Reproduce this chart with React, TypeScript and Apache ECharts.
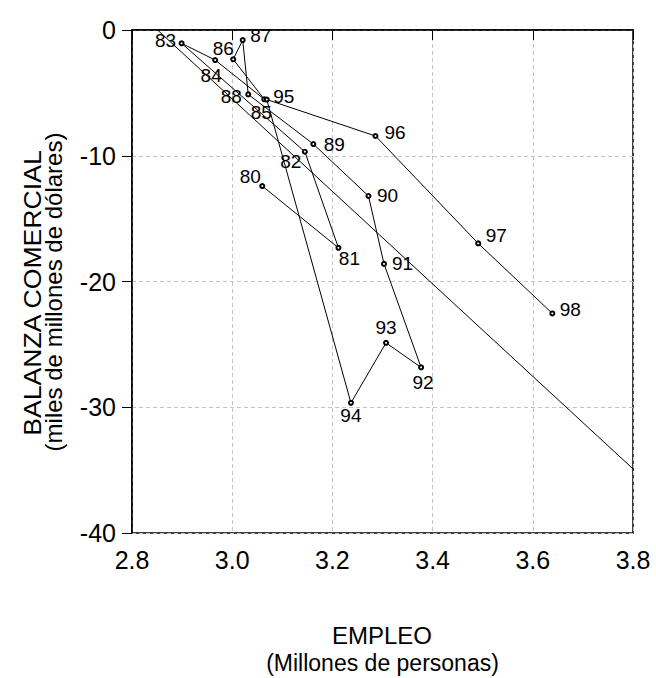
import React, { useEffect, useRef } from "react";
import * as echarts from "echarts";

const years = ["80", "81", "82", "83", "84", "85", "86", "87", "88", "89", "90", "91", "92", "93", "94", "95", "96", "97", "98"];
const empleo = [3.06, 3.212, 3.145, 2.899, 2.966, 3.064, 3.002, 3.021, 3.032, 3.162, 3.272, 3.303, 3.377, 3.307, 3.237, 3.069, 3.286, 3.491, 3.639];
const balanza = [-12.41, -17.32, -9.68, -1.06, -2.39, -5.51, -2.33, -0.8, -5.12, -9.07, -13.2, -18.6, -26.83, -24.88, -29.65, -5.53, -8.43, -16.97, -22.54];
const fitEmpleo = [2.851, 3.8];
const fitBalanza = [0, -34.9];
const xRange = [2.8, 3.8];
const xStep = 0.2;
const yRange = [-40, 0];
const yStep = 10;

export default function App() {
  const ref = useRef<HTMLDivElement>(null);
  useEffect(() => {
    const chart = echarts.init(ref.current!, null, { renderer: "svg" });
    const labelOffsets: number[][] = [
      [-12, -10], [11, 11], [-14, 10], [-16, -3], [-4, 15], [-3, 13.5], [-10, -11], [18, -5], [-17, 2],
      [21, 0], [19, 0], [18.5, 0], [2, 15], [0, -15], [0, 13], [17, -3], [19.5, -3.5], [18, -8], [18, -4],
    ];
    const points = years.map((y, i) => ({
      name: y,
      value: [empleo[i], balanza[i]],
    }));
    const fit = fitEmpleo.map((x, i) => [x, fitBalanza[i]]);
    const splitLine = { show: true, lineStyle: { color: "#c4c4c4", type: [4, 3], width: 1 } };
    chart.setOption({
      animation: false,
      backgroundColor: "#ffffff",
      grid: { left: 132, top: 30, right: 23, bottom: 145, show: true, borderColor: "#000", borderWidth: 1.5, containLabel: false },
      xAxis: {
        type: "value",
        min: xRange[0],
        max: xRange[1],
        interval: xStep,
        axisLine: { show: true, lineStyle: { color: "#000", width: 1.5 } },
        axisTick: { show: true, length: 10, inside: false, lineStyle: { color: "#000", width: 1 } },
        axisLabel: {
          margin: 14,
          fontSize: 25,
          fontFamily: "Liberation Sans",
          color: "#000",
          formatter: (v: number) => v.toFixed(1),
        },
        splitLine,
      },
      yAxis: {
        type: "value",
        min: yRange[0],
        max: yRange[1],
        interval: yStep,
        axisLine: { show: true, lineStyle: { color: "#000", width: 1.5 } },
        axisTick: { show: true, length: 10, inside: false, lineStyle: { color: "#000", width: 1 } },
        axisLabel: {
          margin: 16,
          fontSize: 25,
          fontFamily: "Liberation Sans",
          color: "#000",
          verticalAlign: "middle",
          padding: [0, 0, 12, 0],
        },
        splitLine,
      },
      graphic: [
        {
          type: "text",
          x: 32.5,
          y: 293,
          rotation: Math.PI / 2,
          scaleX: 1.11,
          style: { text: "BALANZA COMERCIAL", fontSize: 24, fontFamily: "Liberation Sans", fill: "#000", align: "center", verticalAlign: "middle" },
        },
        {
          type: "text",
          x: 53,
          y: 292,
          rotation: Math.PI / 2,
          style: { text: "(miles de millones de dólares)", fontSize: 24, fontFamily: "Liberation Sans", fill: "#000", align: "center", verticalAlign: "middle" },
        },
        {
          type: "text",
          x: 382,
          y: 635.5,
          style: { text: "EMPLEO", fontSize: 24, fontFamily: "Liberation Sans", fill: "#000", align: "center", verticalAlign: "middle" },
        },
        {
          type: "text",
          x: 382.5,
          y: 663,
          style: { text: "(Millones de personas)", fontSize: 23, fontFamily: "Liberation Sans", fill: "#000", align: "center", verticalAlign: "middle" },
        },
      ],
      series: [
        {
          type: "line",
          data: fit,
          symbol: "none",
          lineStyle: { color: "#000", width: 1 },
          silent: true,
          z: 2,
        },
        {
          type: "line",
          data: points,
          symbol: "emptyCircle",
          symbolSize: 4,
          showSymbol: true,
          lineStyle: { color: "#000", width: 1 },
          itemStyle: { color: "#000", borderColor: "#000", borderWidth: 1 },
          label: {
            show: true,
            position: "inside",
            formatter: (p: any) => p.name,
            fontSize: 19,
            fontFamily: "Liberation Sans",
            color: "#000",
            align: "center",
            verticalAlign: "middle",
          },
          labelLayout: (p: any) => ({
            dx: labelOffsets[p.dataIndex][0],
            dy: labelOffsets[p.dataIndex][1],
            hideOverlap: false,
          }),
          z: 3,
        },
      ],
    });
    return () => chart.dispose();
  }, []);
  return <div ref={ref} style={{ position: "fixed", left: 0, top: 0, width: 656, height: 678 }} />;
}
